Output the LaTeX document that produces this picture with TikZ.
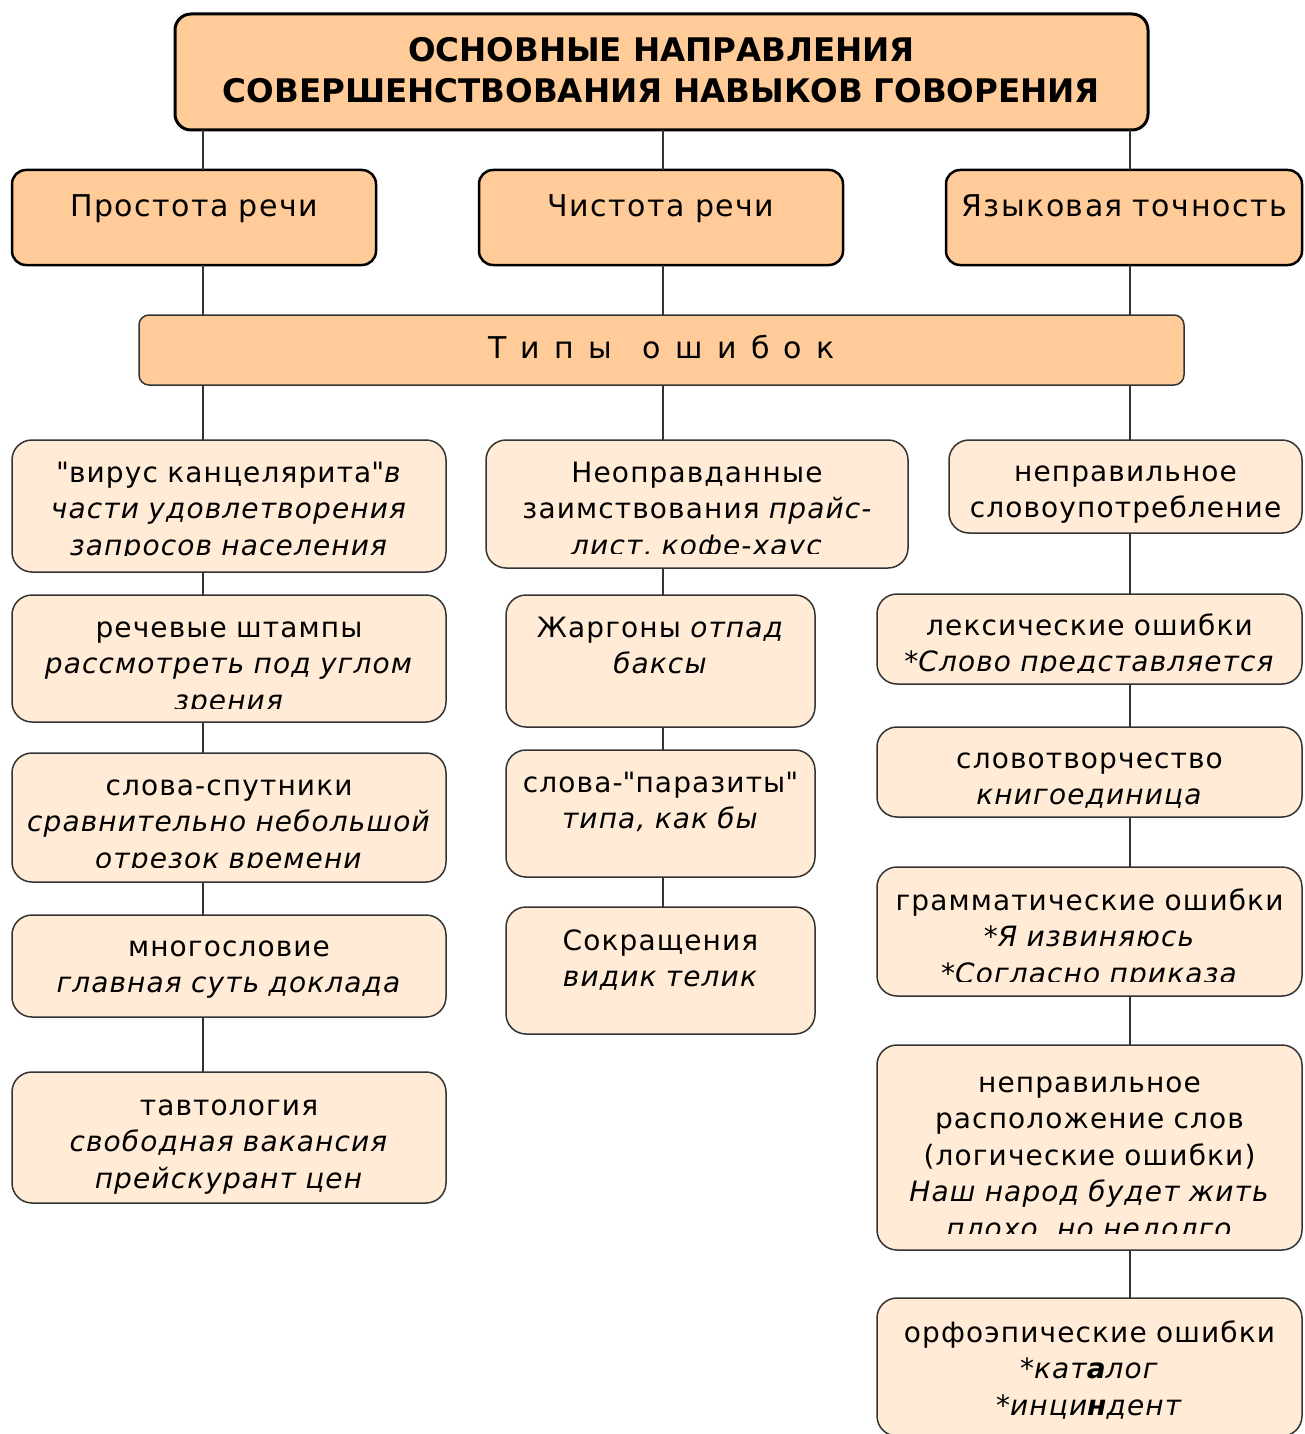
\documentclass[tikz,border=0pt]{standalone}
\usepackage{fontspec}
\setmainfont{DejaVu Sans}
\usetikzlibrary{positioning}
\definecolor{peach}{HTML}{FFCC99}
\definecolor{cream}{HTML}{FFEBD6}
\definecolor{edge}{HTML}{333333}

\begin{document}
\begin{tikzpicture}[x=1pt, y=-1pt,
    boxbase/.style={inner sep=0pt, outer sep=0pt, anchor=north west},
    headbox/.style={boxbase, draw=black, line width=3pt, fill=peach, rounded corners=16pt},
    groupbox/.style={boxbase, draw=black, line width=2.5pt, fill=peach, rounded corners=14pt},
    typebox/.style={boxbase, draw=edge, line width=1.5pt, fill=peach, rounded corners=10pt},
    errbox/.style={boxbase, draw=edge, line width=1.5pt, fill=cream, rounded corners=20pt},
    txt/.style={anchor=base, align=center, inner sep=0pt, text width=430pt, font=\fontsize{28}{36.5}\selectfont\addfontfeature{LetterSpace=4}},
    headtxt/.style={txt, font=\fontsize{30}{36}\selectfont\addfontfeature{LetterSpace=5}},
    link/.style={draw=edge, line width=1.5pt}
]
    \useasboundingbox (0,0) rectangle (1304,1434);

    % top and the three directions
    \node[headbox, minimum width=973pt, minimum height=116pt] (title) at (175,14) {};
    \node[txt, text width=960pt, font=\bfseries\fontsize{32.5}{41}\selectfont] (titlet) at ([yshift=-48pt]title.north) {ОСНОВНЫЕ НАПРАВЛЕНИЯ\\СОВЕРШЕНСТВОВАНИЯ НАВЫКОВ ГОВОРЕНИЯ};

    \node[groupbox, minimum width=364pt, minimum height=95pt] (prost) at (12,170) {};
    \node[groupbox, minimum width=364pt, minimum height=95pt] (chist) at (479,170) {};
    \node[groupbox, minimum width=356pt, minimum height=95pt] (yaz) at (946,170) {};
    \node[headtxt] (prostt) at ([yshift=-46pt]prost.north) {Простота речи};
    \node[headtxt] (chistt) at ([yshift=-46pt]chist.north) {Чистота речи};
    \node[headtxt] (yazt) at ([yshift=-46pt]yaz.north) {Языковая точность};

    \node[typebox, minimum width=1045pt, minimum height=70pt] (types) at (139,315) {};
    \node[headtxt, font=\fontsize{30}{36}\selectfont\addfontfeature{LetterSpace=48}] (typest) at ([yshift=-43pt]types.north) {Типы\hspace{30pt}ошибок};

    % left column
    \node[errbox, minimum width=434pt, minimum height=132pt] (l1) at (12,440) {};
    \node[errbox, minimum width=434pt, minimum height=127pt, below=23pt of l1] (l2) {};
    \node[errbox, minimum width=434pt, minimum height=129pt, below=31pt of l2] (l3) {};
    \node[errbox, minimum width=434pt, minimum height=102pt, below=33pt of l3] (l4) {};
    \node[errbox, minimum width=434pt, minimum height=131pt, below=55pt of l4] (l5) {};
    \begin{scope}
        \clip (l1.north west) rectangle ([yshift=17pt]l1.south east);
        \node[txt] (l1t) at ([yshift=-42pt]l1.north) {\textquotedbl вирус канцелярита\textquotedbl\textit{в}\\\textit{части удовлетворения}\\\textit{запросов населения}};
    \end{scope}
    \begin{scope}
        \clip (l2.north west) rectangle ([yshift=14pt]l2.south east);
        \node[txt] (l2t) at ([yshift=-42pt]l2.north) {речевые штампы\\\textit{рассмотреть под углом}\\\textit{зрения}};
    \end{scope}
    \begin{scope}
        \clip (l3.north west) rectangle ([yshift=15pt]l3.south east);
        \node[txt] (l3t) at ([yshift=-42pt]l3.north) {слова-спутники\\\textit{сравнительно небольшой}\\\textit{отрезок времени}};
    \end{scope}
    \node[txt] (l4t) at ([yshift=-41pt]l4.north) {многословие\\\textit{главная суть доклада}};
    \node[txt] (l5t) at ([yshift=-43pt]l5.north) {тавтология\\\textit{свободная вакансия}\\\textit{прейскурант цен}};

    % middle column
    \node[errbox, minimum width=422pt, minimum height=128pt] (m1) at (486,440) {};
    \node[errbox, minimum width=309pt, minimum height=132pt] (m2) at (506,595) {};
    \node[errbox, minimum width=309pt, minimum height=127pt, below=23pt of m2] (m3) {};
    \node[errbox, minimum width=309pt, minimum height=127pt, below=30pt of m3] (m4) {};
    \begin{scope}
        \clip (m1.north west) rectangle ([yshift=15pt]m1.south east);
        \node[txt] (m1t) at ([yshift=-42pt]m1.north) {Неоправданные\\заимствования \textit{прайс-}\\\textit{лист, кофе-хаус}};
    \end{scope}
    \node[txt] (m2t) at ([yshift=-42pt]m2.north) {Жаргоны \textit{отпад}\\\textit{баксы}};
    \node[txt] (m3t) at ([yshift=-42pt]m3.north) {слова-\textquotedbl паразиты\textquotedbl\\\textit{типа, как бы}};
    \node[txt] (m4t) at ([yshift=-43pt]m4.north) {Сокращения\\\textit{видик телик}};

    % right column
    \node[errbox, minimum width=353pt, minimum height=93pt] (r1) at (949,440) {};
    \node[errbox, minimum width=425pt, minimum height=90pt] (r2) at (877,594) {};
    \node[errbox, minimum width=425pt, minimum height=90pt, below=43pt of r2] (r3) {};
    \node[errbox, minimum width=425pt, minimum height=129pt, below=50pt of r3] (r4) {};
    \node[errbox, minimum width=425pt, minimum height=205pt, below=49pt of r4] (r5) {};
    \node[errbox, minimum width=425pt, minimum height=138pt, below=48pt of r5] (r6) {};
    \node[txt] (r1t) at ([yshift=-41pt]r1.north) {неправильное\\словоупотребление};
    \begin{scope}
        \clip (r2.north west) rectangle ([yshift=12pt]r2.south east);
        \node[txt] (r2t) at ([yshift=-41pt]r2.north) {лексические ошибки\\{*}\textit{Слово представляется}};
    \end{scope}
    \node[txt] (r3t) at ([yshift=-41pt]r3.north) {словотворчество\\\textit{книгоединица}};
    \begin{scope}
        \clip (r4.north west) rectangle ([yshift=15pt]r4.south east);
        \node[txt] (r4t) at ([yshift=-43pt]r4.north) {грамматические ошибки\\{*}\textit{Я извиняюсь}\\{*}\textit{Согласно приказа}};
    \end{scope}
    \begin{scope}
        \clip (r5.north west) rectangle ([yshift=17pt]r5.south east);
        \node[txt] (r5t) at ([yshift=-47pt]r5.north) {неправильное\\расположение слов\\(логические ошибки)\\\textit{Наш народ будет жить}\\\textit{плохо, но недолго}};
    \end{scope}
    \node[txt] (r6t) at ([yshift=-44pt]r6.north) {орфоэпические ошибки\\{*}\textit{кат\textbf{а}лог}\\{*}\textit{инци\textbf{н}дент}};

    % connectors
    \coordinate (colA) at (203,0);
    \coordinate (colB) at (663,0);
    \coordinate (colC) at (1130,0);
    \foreach \a/\b in {title/prost, prost/types, types/l1, l1/l2, l2/l3, l3/l4, l4/l5}
        \draw[link] (\a.south -| colA) -- (\b.north -| colA);
    \foreach \a/\b in {title/chist, chist/types, types/m1, m1/m2, m2/m3, m3/m4}
        \draw[link] (\a.south -| colB) -- (\b.north -| colB);
    \foreach \a/\b in {title/yaz, yaz/types, types/r1, r1/r2, r2/r3, r3/r4, r4/r5, r5/r6}
        \draw[link] (\a.south -| colC) -- (\b.north -| colC);
\end{tikzpicture}
\end{document}
